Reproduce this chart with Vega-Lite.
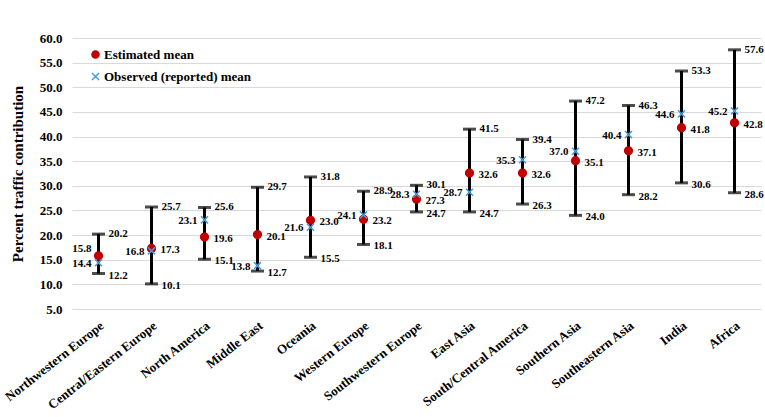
{
  "$schema": "https://vega.github.io/schema/vega-lite/v6.json",
  "width": 689,
  "height": 271,
  "autosize": {"type": "none"},
  "padding": {"left": 72, "top": 38, "right": 4, "bottom": 108},
  "background": "white",
  "config": {
    "view": {"stroke": null},
    "font": "Liberation Serif",
    "axis": {"labelOverlap": false, "labelFont": "Liberation Serif", "labelFontWeight": "bold", "labelColor": "#000000", "ticks": false, "domain": false},
    "axisY": {"labelOverlap": false, "labelFontSize": 13, "labelPadding": 10, "gridColor": "#D9D9D9", "gridWidth": 1},
    "text": {"font": "Liberation Serif", "fontWeight": "bold", "fontSize": 11, "color": "#000000"}
  },
  "data": {
    "values": [
      {"region": "Northwestern Europe", "est": 15.8, "obs": 14.4, "low": 12.2, "high": 20.2},
      {"region": "Central/Eastern Europe", "est": 17.3, "obs": 16.8, "low": 10.1, "high": 25.7},
      {"region": "North America", "est": 19.6, "obs": 23.1, "low": 15.1, "high": 25.6},
      {"region": "Middle East", "est": 20.1, "obs": 13.8, "low": 12.7, "high": 29.7},
      {"region": "Oceania", "est": 23.0, "obs": 21.6, "low": 15.5, "high": 31.8},
      {"region": "Western Europe", "est": 23.2, "obs": 24.1, "low": 18.1, "high": 28.9},
      {"region": "Southwestern Europe", "est": 27.3, "obs": 28.3, "low": 24.7, "high": 30.1},
      {"region": "East Asia", "est": 32.6, "obs": 28.7, "low": 24.7, "high": 41.5},
      {"region": "South/Central America", "est": 32.6, "obs": 35.3, "low": 26.3, "high": 39.4},
      {"region": "Southern Asia", "est": 35.1, "obs": 37.0, "low": 24.0, "high": 47.2},
      {"region": "Southeastern Asia", "est": 37.1, "obs": 40.4, "low": 28.2, "high": 46.3},
      {"region": "India", "est": 41.8, "obs": 44.6, "low": 30.6, "high": 53.3},
      {"region": "Africa", "est": 42.8, "obs": 45.2, "low": 28.6, "high": 57.6}
    ]
  },
  "encoding": {
    "x": {
      "field": "region",
      "type": "nominal",
      "sort": null,
      "scale": {"paddingInner": 0, "paddingOuter": 0},
      "axis": {
        "title": null,
        "labelAngle": -38,
        "labelFontSize": 13,
        "labelPadding": 10,
        "grid": false
      }
    }
  },
  "layer": [
    {
      "mark": {"type": "rule", "strokeWidth": 3, "color": "#000000"},
      "encoding": {
        "y": {
          "field": "low",
          "type": "quantitative",
          "scale": {"domain": [5, 60], "nice": false, "zero": false},
          "axis": {
            "values": [5, 10, 15, 20, 25, 30, 35, 40, 45, 50, 55, 60],
            "tickCount": 12,
            "format": ".1f",
            "title": "Percent traffic contribution",
            "titleFont": "Liberation Serif",
            "titleFontWeight": "bold",
            "titleFontSize": 15,
            "titleColor": "#000000",
            "titlePadding": 14,
            "labelOverlap": false,
            "grid": true
          }
        },
        "y2": {"field": "high"}
      }
    },
    {
      "mark": {"type": "tick", "thickness": 3, "size": 13, "color": "#000000"},
      "encoding": {"y": {"field": "low", "type": "quantitative"}}
    },
    {
      "mark": {"type": "tick", "thickness": 3, "size": 13, "color": "#000000"},
      "encoding": {"y": {"field": "high", "type": "quantitative"}}
    },
    {
      "transform": [{"fold": ["est", "obs"], "as": ["series", "value"]}],
      "mark": {"type": "point", "filled": false, "opacity": 1, "strokeWidth": 1.5},
      "encoding": {
        "y": {"field": "value", "type": "quantitative"},
        "shape": {
          "field": "series",
          "type": "nominal",
          "scale": {"domain": ["est", "obs"], "range": ["circle", "M-1,-1L1,1M1,-1L-1,1"]},
          "legend": null
        },
        "fill": {
          "field": "series",
          "type": "nominal",
          "scale": {"domain": ["est", "obs"], "range": ["#C00000", "transparent"]},
          "legend": null
        },
        "stroke": {
          "field": "series",
          "type": "nominal",
          "scale": {"domain": ["est", "obs"], "range": ["#C00000", "#4A9BD6"]},
          "legend": null
        },
        "size": {
          "field": "series",
          "type": "nominal",
          "scale": {"domain": ["est", "obs"], "range": [60, 50]},
          "legend": null
        }
      }
    },
    {
      "transform": [{"filter": "datum.region !== 'Northwestern Europe'"}],
      "mark": {"type": "text", "align": "left", "baseline": "middle", "dx": 9, "dy": 2},
      "encoding": {
        "y": {"field": "est", "type": "quantitative"},
        "text": {"field": "est", "type": "quantitative", "format": ".1f"}
      }
    },
    {
      "transform": [{"filter": "datum.region === 'Northwestern Europe'"}],
      "mark": {"type": "text", "align": "right", "baseline": "middle", "dx": -7, "dy": -7},
      "encoding": {
        "y": {"field": "est", "type": "quantitative"},
        "text": {"field": "est", "type": "quantitative", "format": ".1f"}
      }
    },
    {
      "mark": {"type": "text", "align": "right", "baseline": "middle", "dx": -7, "dy": 1},
      "encoding": {
        "y": {"field": "obs", "type": "quantitative"},
        "text": {"field": "obs", "type": "quantitative", "format": ".1f"}
      }
    },
    {
      "mark": {"type": "text", "align": "left", "baseline": "middle", "dx": 10, "dy": 0},
      "encoding": {
        "y": {"field": "high", "type": "quantitative"},
        "text": {"field": "high", "type": "quantitative", "format": ".1f"}
      }
    },
    {
      "mark": {"type": "text", "align": "left", "baseline": "middle", "dx": 10, "dy": 2},
      "encoding": {
        "y": {"field": "low", "type": "quantitative"},
        "text": {"field": "low", "type": "quantitative", "format": ".1f"}
      }
    },
    {
      "data": {"values": [{"series": "Estimated mean"}, {"series": "Observed (reported) mean"}]},
      "mark": {"type": "point", "filled": true, "opacity": 0},
      "encoding": {
        "x": {"value": 0},
        "y": {"value": 0},
        "shape": {
          "field": "series",
          "type": "nominal",
          "scale": {"domain": ["Estimated mean", "Observed (reported) mean"], "range": ["circle", "M-1,-1L1,1M1,-1L-1,1"]},
          "legend": {
            "title": null,
            "orient": "none",
            "legendX": 17,
            "legendY": 10,
            "padding": 0,
            "rowPadding": 7,
            "labelFont": "Liberation Serif",
            "labelFontWeight": "bold",
            "labelFontSize": 13,
            "labelColor": "#000000",
            "labelOffset": 2,
            "symbolSize": 50,
            "symbolStrokeWidth": 1.5,
            "symbolOpacity": 1
          }
        },
        "fill": {
          "field": "series",
          "type": "nominal",
          "scale": {"domain": ["Estimated mean", "Observed (reported) mean"], "range": ["#C00000", "#C00000"]}
        },
        "stroke": {
          "field": "series",
          "type": "nominal",
          "scale": {"domain": ["Estimated mean", "Observed (reported) mean"], "range": ["#C00000", "#4A9BD6"]}
        }
      }
    }
  ],
  "resolve": {"scale": {"shape": "independent", "fill": "independent", "stroke": "independent", "size": "independent"}}
}
